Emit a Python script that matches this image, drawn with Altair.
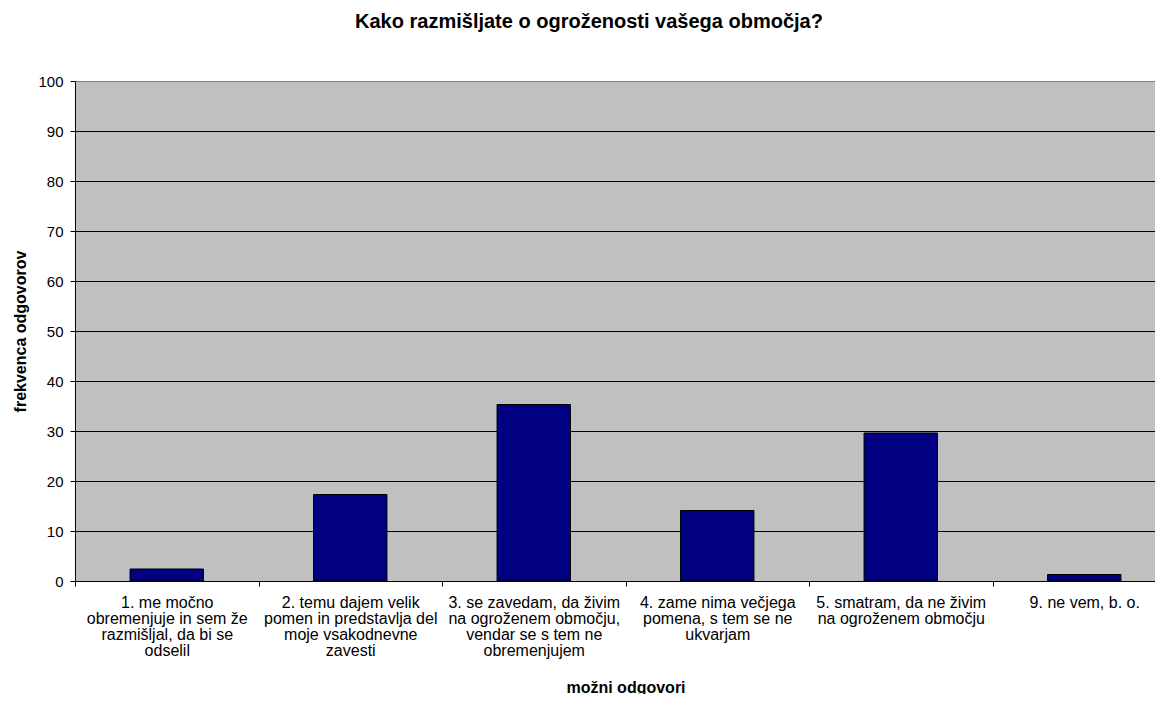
import altair as alt
import pandas as pd

categories = [
    "1. me močno\nobremenjuje in sem že\nrazmišljal, da bi se\nodselil",
    "2. temu dajem velik\npomen in predstavlja del\nmoje vsakodnevne\nzavesti",
    "3. se zavedam, da živim\nna ogroženem območju,\nvendar se s tem ne\nobremenjujem",
    "4. zame nima večjega\npomena, s tem se ne\nukvarjam",
    "5. smatram, da ne živim\nna ogroženem območju",
    "9. ne vem, b. o.",
]
values = [2.4, 17.3, 35.3, 14.1, 29.6, 1.3]
y_ticks = [0, 10, 20, 30, 40, 50, 60, 70, 80, 90, 100]

df = pd.DataFrame({"odgovor": categories, "frekvenca": values})

FONT = "Liberation Sans"

chart = (
    alt.Chart(df)
    .mark_bar(color="#000080", stroke="#000000", strokeWidth=1, width={"band": 0.4})
    .encode(
        x=alt.X(
            "odgovor:N",
            sort=categories,
            scale=alt.Scale(paddingInner=0, paddingOuter=0, range=[0, 1101]),
            axis=alt.Axis(
                title="možni odgovori",
                titleFontSize=16,
                titleFontWeight="bold",
                titlePadding=21,
                labelAngle=0,
                labelFontSize=16,
                labelLineHeight=16,
                labelPadding=8,
                labelExpr="split(datum.label, '\\n')",
                labelLimit=0,
                tickBand="extent",
                tickSize=5,
                tickColor="#000000",
                domainColor="#000000",
                labelColor="#000000",
                titleColor="#000000",
                grid=False,
            ),
        ),
        y=alt.Y(
            "frekvenca:Q",
            scale=alt.Scale(domain=[0, 100], nice=False),
            axis=alt.Axis(
                title="frekvenca odgovorov",
                titleFontSize=16,
                titleFontWeight="bold",
                titlePadding=9,
                values=y_ticks,
                labelFontSize=15,
                labelPadding=7,
                tickSize=5,
                tickColor="#000000",
                domainColor="#000000",
                labelColor="#000000",
                titleColor="#000000",
                grid=True,
                gridColor={"condition": {"test": "datum.value === 100", "value": "#808080"}, "value": "#000000"},
                gridWidth=1,
                gridOpacity=1,
            ),
        ),
    )
    .properties(
        width=1080,
        height=500,
        autosize=alt.AutoSizeParams(type="none"),
        padding={"left": 67, "top": 73, "right": 0, "bottom": 113},
        title=alt.TitleParams(
            "Kako razmišljate o ogroženosti vašega območja?",
            fontSize=20,
            fontWeight="bold",
            font=FONT,
            color="#000000",
            offset=42,
            anchor="middle",
            dx=-26,
        ),
    )
    .configure(font=FONT)
    .configure_view(fill="#C0C0C0", strokeWidth=0)
    .configure_axis(labelFont=FONT, titleFont=FONT)
)

chart.save("out.html", embed_options={"renderer": "svg", "actions": False})
